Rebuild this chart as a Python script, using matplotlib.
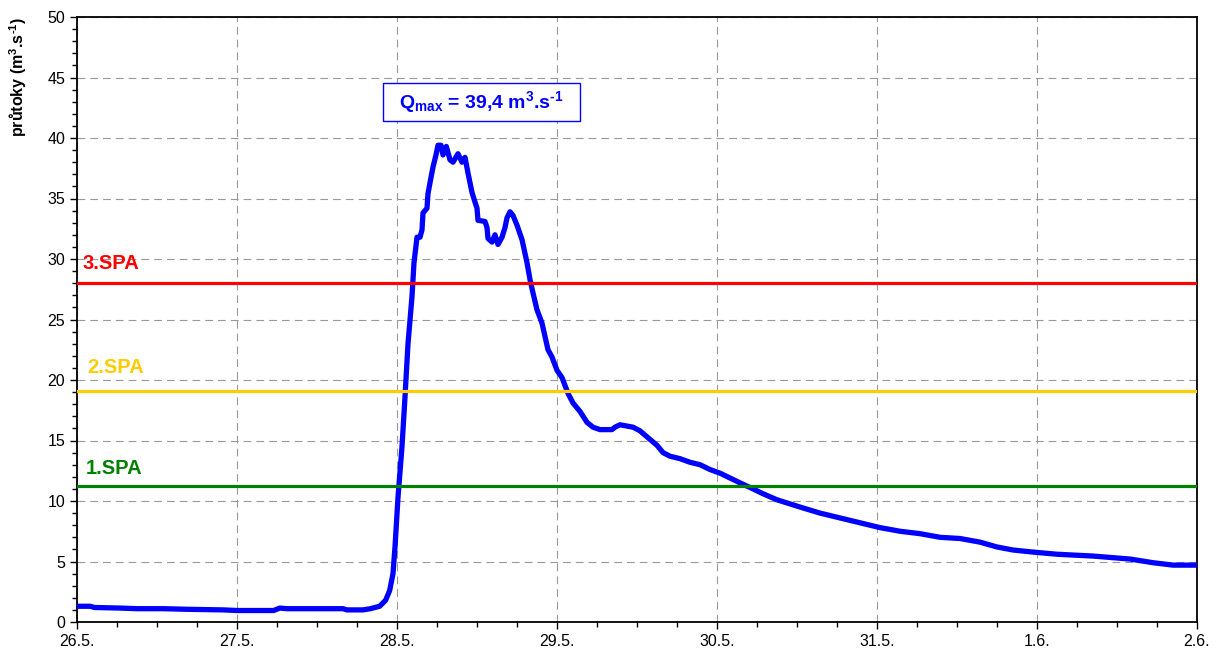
import numpy as np
import matplotlib
matplotlib.use("Agg")
import matplotlib.pyplot as plt
from matplotlib.patches import Rectangle
from matplotlib.ticker import MultipleLocator, FixedLocator

plt.rcParams['font.family'] = ['Liberation Sans', 'DejaVu Sans']
# all math-mode labels here are bold
plt.rcParams['mathtext.fontset'] = 'custom'
plt.rcParams['mathtext.rm'] = 'Liberation Sans:bold'
plt.rcParams['mathtext.bf'] = 'Liberation Sans:bold'
plt.rcParams['mathtext.it'] = 'Liberation Sans:bold'

# hours since 26.5. 00:00 and discharge in m3/s
hours = [0, 2.0, 2.6, 6.5, 9, 13, 16.5, 22, 24, 29.5, 30.4, 31.5, 39.9, 40.5, 42.9, 44, 45.4,
         46.3, 46.9, 47.4, 47.7, 48.15, 48.75, 49.2, 49.65, 50.25, 50.55, 51.0, 51.45, 51.75,
         51.9, 52.5, 52.65, 52.95, 53.4, 53.85, 54.15, 54.6, 54.9, 55.4, 55.95, 56.4, 57.15,
         57.75, 58.2, 58.65, 59.25, 59.7, 60.0, 60.15, 61.2, 61.5, 61.65, 62.25, 62.7, 63.15,
         63.75, 64.2, 64.5, 64.95, 65.4, 66.0, 66.75, 67.5, 67.95, 68.4, 69.0, 69.75, 70.2,
         70.65, 71.25, 72.0, 72.75, 73.65, 74.4, 75.45, 76.5, 77.4, 78.45, 80.25, 80.7, 81.45,
         83.4, 84.45, 85.5, 87.0, 87.9, 88.95, 90.45, 91.95, 93.45, 94.95, 96.45, 97.95, 99.45,
         101.4, 102.9, 105.0, 108.45, 111.45, 114.45, 117.45, 120.45, 123.45, 126.45, 129.45,
         132.45, 135.45, 138.0, 140.4, 143.0, 147.0, 152.4, 158.0, 161.4, 164.4, 168.0]
flow = [1.3, 1.3, 1.2, 1.15, 1.1, 1.1, 1.05, 1.0, 0.95, 0.95, 1.15, 1.1, 1.1, 1.0, 1.0, 1.1, 1.3,
        1.8, 2.6, 4.0, 6.2, 10.3, 14.5, 18.6, 23.0, 26.9, 29.7, 31.8, 31.8, 32.4,
        33.8, 34.2, 35.4, 36.3, 37.6, 38.6, 39.4, 39.4, 38.6, 39.3, 38.2, 38.0, 38.7,
        38.0, 38.4, 37.1, 35.5, 34.7, 34.2, 33.2, 33.1, 32.6, 31.7, 31.4, 32.0, 31.2,
        31.8, 32.6, 33.4, 33.9, 33.6, 32.8, 31.6, 29.7, 28.3, 27.2, 25.8, 24.7, 23.6,
        22.5, 21.9, 20.8, 20.2, 18.9, 18.1, 17.4, 16.5, 16.1, 15.9, 15.9, 16.1, 16.3,
        16.1, 15.8, 15.3, 14.6, 14.0, 13.7, 13.5, 13.2, 13.0, 12.6, 12.3, 11.9, 11.5,
        11.0, 10.6, 10.1, 9.5, 9.0, 8.6, 8.2, 7.8, 7.5, 7.3, 7.0,
        6.9, 6.6, 6.2, 5.95, 5.8, 5.6, 5.45, 5.2, 4.9, 4.7, 4.7]

day_labels = ['26.5.', '27.5.', '28.5.', '29.5.', '30.5.', '31.5.', '1.6.', '2.6.']

spa_names = ['1.SPA', '2.SPA', '3.SPA']
spa_levels = [11.2, 19.1, 28.0]
spa_colors = ['#008000', '#FFCC00', '#FF0000']
spa_text_dy = [1.03, 1.48, 1.17]
spa_text_x = [1.35, 1.6, 0.85]

fig = plt.figure(figsize=(12.21, 6.56), dpi=100)
ax = fig.add_axes([77 / 1221, 34 / 656, 1120 / 1221, 605 / 656])

ax.plot(hours, flow, color='#0000FF', lw=3.8, solid_joinstyle='round',
        solid_capstyle='round', zorder=3)

for name, lvl, col, dy, tx in zip(spa_names, spa_levels, spa_colors, spa_text_dy, spa_text_x):
    ax.axhline(lvl, color=col, lw=2.3, zorder=4)
    ax.text(tx, lvl + dy, name, color=col, fontsize=14.5, fontweight='bold',
            ha='left', va='baseline', zorder=5)

# peak discharge label in a framed box
qmax = max(flow)
qtxt = (r'Q$_{\text{max}}$ = ' + f'{qmax:.1f}'.replace('.', ',')
        + r' m$^{\text{3}}$.s$^{\text{-1}}$')
ax.add_patch(Rectangle((0.2732, 0.8281), 0.1759, 0.0628, transform=ax.transAxes,
                       fc='white', ec='#0000FF', lw=1.0, zorder=6))
ax.text(0.3607, 0.8595, qtxt, transform=ax.transAxes, color='#0000FF',
        fontsize=14, fontweight='bold', ha='center', va='center', zorder=7)

ax.set_xlim(0, 168)
ax.set_ylim(0, 50)
ax.xaxis.set_major_locator(FixedLocator(np.arange(0, 169, 24)))
ax.xaxis.set_minor_locator(MultipleLocator(6))
ax.set_xticklabels(day_labels)
ax.yaxis.set_major_locator(MultipleLocator(5))
ax.yaxis.set_minor_locator(MultipleLocator(1))

ax.grid(True, which='major', color='#999999', linestyle=(0, (7, 4.5)), linewidth=0.8)
ax.set_axisbelow(True)

ax.tick_params(which='both', direction='out', labelsize=11.5, color='black')
ax.tick_params(which='major', length=5, width=1)
ax.tick_params(which='minor', length=3.5, width=1)
for s in ax.spines.values():
    s.set_linewidth(1.3)

fig.text(18 / 1221, 1 - 17 / 656, r'průtoky (m$^{\text{3}}$.s$^{\text{-1}}$)',
         rotation=90, ha='center', va='top', fontsize=11.5, fontweight='bold')

fig.savefig('out.png', dpi=100)
